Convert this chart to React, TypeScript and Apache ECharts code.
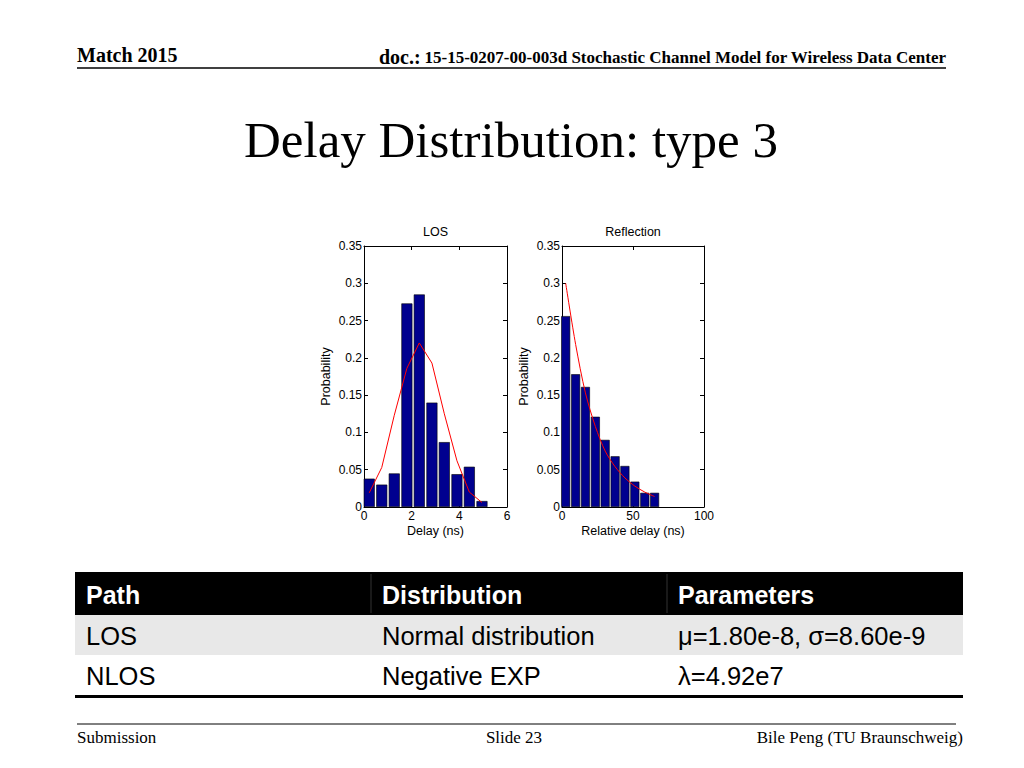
import React, { useEffect, useRef } from "react";
import * as echarts from "echarts";

// ---- data ----
const losCenters = [0.22, 0.745, 1.27, 1.8, 2.32, 2.85, 3.37, 3.9, 4.42, 4.95];
const losProb = [0.038, 0.03, 0.045, 0.273, 0.285, 0.14, 0.087, 0.044, 0.054, 0.008];
const losFit = [0.019, 0.053, 0.123, 0.186, 0.22, 0.193, 0.125, 0.062, 0.02, 0.006];

const reflCenters = [2.6, 9.6, 16.5, 23.5, 30.4, 37.4, 44.3, 51.3, 58.3, 65.2];
const reflProb = [0.256, 0.178, 0.161, 0.121, 0.09, 0.068, 0.055, 0.034, 0.019, 0.019];
const reflFit = [0.3, 0.218, 0.153, 0.108, 0.075, 0.054, 0.039, 0.028, 0.02, 0.014];

const tableHeader = ["Path", "Distribution", "Parameters"];
const tableRows = [
  ["LOS", "Normal distribution", "μ=1.80e-8, σ=8.60e-9"],
  ["NLOS", "Negative EXP", "λ=4.92e7"],
];

const SANS = "Liberation Sans, Arial, sans-serif";
const SERIF = "Liberation Serif, Times New Roman, serif";

function pairs(xs: number[], ys: number[]) {
  return xs.map((x, i) => [x, ys[i]]);
}

export default function App() {
  const ref = useRef<HTMLDivElement>(null);
  useEffect(() => {
    if (!ref.current) return;
    const chart = echarts.init(ref.current, null, { renderer: "svg" });

    const axisCommon = {
      axisLine: { show: true, onZero: false, lineStyle: { color: "#000", width: 1 } },
      axisTick: { show: true, inside: true, length: 4, lineStyle: { color: "#000" } },
      splitLine: { show: false },
      nameTextStyle: { fontFamily: SANS, fontSize: 12.5, color: "#000" },
    };
    const labelStyle = { fontFamily: SANS, fontSize: 12, color: "#000" };

    const xAxes: any[] = [];
    const yAxes: any[] = [];
    const defs = [
      { max: 6, interval: 2, title: "LOS", xname: "Delay (ns)" },
      { max: 100, interval: 50, title: "Reflection", xname: "Relative delay (ns)" },
    ];
    defs.forEach((d, g) => {
      xAxes.push({
        ...axisCommon,
        type: "value",
        gridIndex: g,
        position: "bottom",
        min: 0,
        max: d.max,
        interval: d.interval,
        name: d.xname,
        nameLocation: "middle",
        nameGap: 17,
        axisLabel: { ...labelStyle, margin: 3 },
      });
      xAxes.push({
        ...axisCommon,
        type: "value",
        gridIndex: g,
        position: "top",
        min: 0,
        max: d.max,
        interval: d.interval,
        name: d.title,
        nameLocation: "middle",
        nameGap: 8,
        axisLabel: { show: false },
      });
      yAxes.push({
        ...axisCommon,
        type: "value",
        gridIndex: g,
        position: "left",
        min: 0,
        max: 0.35,
        interval: 0.05,
        name: "Probability",
        nameLocation: "middle",
        nameRotate: 90,
        nameGap: 32,
        axisLabel: { ...labelStyle, margin: 2 },
      });
      yAxes.push({
        ...axisCommon,
        type: "value",
        gridIndex: g,
        position: "right",
        min: 0,
        max: 0.35,
        interval: 0.05,
        axisLabel: { show: false },
      });
    });

    const barStyle = { color: "#00008f", borderColor: "#000", borderWidth: 0.6 };
    const lineStyle = { color: "#ff0000", width: 1 };

    const graphics: any[] = [];
    // header
    graphics.push({
      type: "text",
      x: 77,
      y: 55,
      style: { text: "Match 2015", font: `bold 20px ${SERIF}`, fill: "#000", textVerticalAlign: "middle" },
    });
    graphics.push({
      type: "text",
      x: 946,
      y: 57,
      style: {
        text: "{a|doc.:} {b|15-15-0207-00-003d Stochastic Channel Model for Wireless Data Center}",
        textAlign: "right",
        textVerticalAlign: "middle",
        rich: {
          a: { fontFamily: SERIF, fontWeight: "bold", fontSize: 20, fill: "#000" },
          b: { fontFamily: SERIF, fontWeight: "bold", fontSize: 17, fill: "#000" },
        },
      },
    });
    graphics.push({
      type: "line",
      shape: { x1: 77, y1: 68, x2: 946, y2: 68 },
      style: { stroke: "#000", lineWidth: 1.5 },
    });
    // title
    graphics.push({
      type: "text",
      x: 511,
      y: 140,
      style: {
        text: "Delay Distribution: type 3",
        font: `51px ${SERIF}`,
        fill: "#000",
        textAlign: "center",
        textVerticalAlign: "middle",
      },
    });
    // table
    const colX = [75, 371, 667];
    const rowTop = [572, 615, 655];
    const rowH = [43, 40, 40];
    graphics.push({ type: "rect", shape: { x: 75, y: 572, width: 888, height: 43 }, style: { fill: "#000" } });
    graphics.push({ type: "rect", shape: { x: 75, y: 615, width: 888, height: 40 }, style: { fill: "#e8e8e8" } });
    graphics.push({ type: "rect", shape: { x: 75, y: 655, width: 888, height: 40 }, style: { fill: "#fff" } });
    [371, 667].forEach((x) =>
      graphics.push({
        type: "line",
        shape: { x1: x, y1: 574, x2: x, y2: 613 },
        style: { stroke: "#333", lineWidth: 1 },
      })
    );
    graphics.push({
      type: "line",
      shape: { x1: 75, y1: 696.5, x2: 963, y2: 696.5 },
      style: { stroke: "#000", lineWidth: 3 },
    });
    tableHeader.forEach((t, c) =>
      graphics.push({
        type: "text",
        x: colX[c] + 11,
        y: rowTop[0] + rowH[0] / 2 + 1,
        style: { text: t, font: `bold 25px ${SANS}`, fill: "#fff", textVerticalAlign: "middle" },
      })
    );
    tableRows.forEach((row, r) =>
      row.forEach((t, c) =>
        graphics.push({
          type: "text",
          x: colX[c] + 11,
          y: rowTop[r + 1] + rowH[r + 1] / 2 + 1,
          style: { text: t, font: `25.5px ${SANS}`, fill: "#000", textVerticalAlign: "middle" },
        })
      )
    );
    // footer
    graphics.push({
      type: "line",
      shape: { x1: 77, y1: 724, x2: 956, y2: 724 },
      style: { stroke: "#000", lineWidth: 1 },
    });
    graphics.push({
      type: "text",
      x: 77,
      y: 737,
      style: { text: "Submission", font: `17px ${SERIF}`, fill: "#000", textVerticalAlign: "middle" },
    });
    graphics.push({
      type: "text",
      x: 514,
      y: 737,
      style: { text: "Slide 23", font: `17px ${SERIF}`, fill: "#000", textAlign: "center", textVerticalAlign: "middle" },
    });
    graphics.push({
      type: "text",
      x: 963,
      y: 737,
      style: {
        text: "Bile Peng (TU Braunschweig)",
        font: `17px ${SERIF}`,
        fill: "#000",
        textAlign: "right",
        textVerticalAlign: "middle",
      },
    });

    chart.setOption({
      animation: false,
      backgroundColor: "#fff",
      grid: [
        { left: 364, top: 246, width: 143, height: 261 },
        { left: 562, top: 246, width: 142, height: 261 },
      ],
      xAxis: xAxes,
      yAxis: yAxes,
      series: [
        {
          type: "bar",
          xAxisIndex: 0,
          yAxisIndex: 0,
          barWidth: 11,
          itemStyle: barStyle,
          data: pairs(losCenters, losProb),
        },
        {
          type: "line",
          xAxisIndex: 0,
          yAxisIndex: 0,
          showSymbol: false,
          lineStyle,
          z: 5,
          data: pairs(losCenters, losFit),
        },
        {
          type: "bar",
          xAxisIndex: 2,
          yAxisIndex: 2,
          barWidth: 9,
          itemStyle: barStyle,
          data: pairs(reflCenters, reflProb),
        },
        {
          type: "line",
          xAxisIndex: 2,
          yAxisIndex: 2,
          showSymbol: false,
          smooth: 0.3,
          lineStyle,
          z: 5,
          data: pairs(reflCenters, reflFit),
        },
      ],
      graphic: graphics,
    });
    return () => chart.dispose();
  }, []);
  return (
    <div
      ref={ref}
      style={{ position: "absolute", left: 0, top: 0, width: 1024, height: 768, background: "#fff" }}
    />
  );
}
